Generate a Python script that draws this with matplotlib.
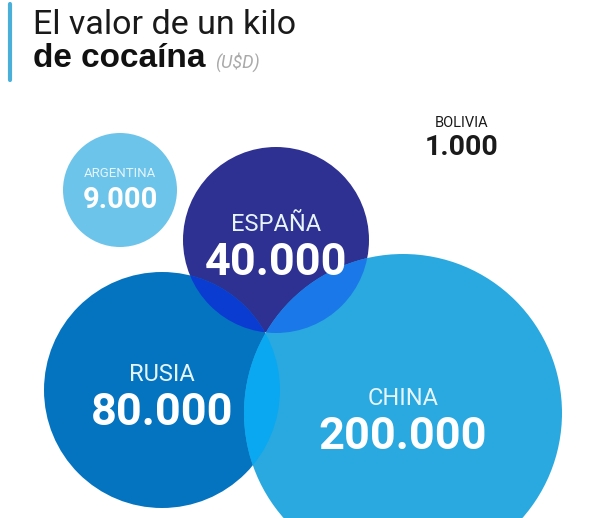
import matplotlib
matplotlib.use("Agg")
import matplotlib.pyplot as plt
from matplotlib.patches import Circle

plt.rcParams['font.family'] = ['Roboto', 'DejaVu Sans']

# datos
paises = ['ARGENTINA', 'ESPAÑA', 'RUSIA', 'CHINA']
valores = ['9.000', '40.000', '80.000', '200.000']
bolivia = ('BOLIVIA', '1.000')

# posiciones (px) y estilos
centros = [(120, 190), (276, 240), (162, 390), (403, 413)]
radios = [57, 93, 118, 159]
colores = ['#6cc4ea', '#2e3192', '#0574c0', '#2aa9e0']
tam_nombre = [9.5, 17, 17, 17]
tam_valor = [21, 32.5, 32.5, 32.5]
dy_nombre = [-13, -9, -9, -8]
dy_valor = [18, 35, 35, 36]

# color de las intersecciones (i, j)
cruces = {(1, 2): '#0a3cd2', (1, 3): '#1a78e8', (2, 3): '#0aa8f0'}

fig = plt.figure(figsize=(6.08, 5.18), dpi=100)
ax = fig.add_axes([0, 0, 1, 1])
ax.set_xlim(0, 608)
ax.set_ylim(518, 0)
ax.set_aspect('equal')
ax.axis('off')

circulos = []
for c, r, col in zip(centros, radios, colores):
    p = Circle(c, r, facecolor=col, edgecolor='none', zorder=1)
    ax.add_patch(p)
    circulos.append(p)

for (i, j), col in cruces.items():
    p = Circle(centros[i], radios[i], facecolor=col, edgecolor='none', zorder=2)
    ax.add_patch(p)
    p.set_clip_path(circulos[j])

for k, nombre in enumerate(paises):
    x, y = centros[k]
    ax.text(x, y + dy_nombre[k], nombre, ha='center', va='baseline',
            fontsize=tam_nombre[k], color='#e6f4fb', zorder=5)
    ax.text(x, y + dy_valor[k], valores[k], ha='center', va='baseline',
            fontsize=tam_valor[k], fontweight='bold', color='white', zorder=5)

ax.text(462, 127, bolivia[0], ha='center', va='baseline', fontsize=10.5, color='#1a1a1a')
ax.text(462, 155, bolivia[1], ha='center', va='baseline', fontsize=20.5,
        fontweight='bold', color='#1a1a1a')

# titulo
ax.plot([10, 10], [4, 80], color='#4ab0da', lw=3, solid_capstyle='round')
ax.text(33, 34, 'El valor de un kilo', ha='left', va='baseline', fontsize=24.5, color='#1a1a1a')
ax.text(33, 67, 'de cocaína', ha='left', va='baseline', fontsize=24,
        fontweight='bold', color='#111111', family=['Liberation Sans', 'DejaVu Sans'])
ax.text(215, 68, r'(U\$D)', ha='left', va='baseline', fontsize=13,
        fontstyle='italic', color='#aaaaaa')

fig.savefig('out.png', dpi=100, facecolor='white')
